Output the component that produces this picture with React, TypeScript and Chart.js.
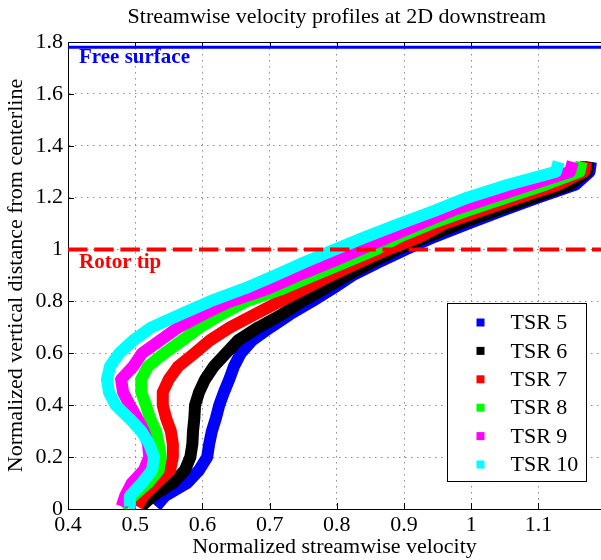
import { useEffect, useRef } from "react";
import { Chart, registerables } from "chart.js";

Chart.register(...registerables);

// Heights above the centerline (normalized) at which each profile is sampled
const heights = [
  0.01, 0.05, 0.1, 0.15, 0.2, 0.25, 0.3, 0.35, 0.4, 0.45, 0.5, 0.55, 0.6, 0.65,
  0.7, 0.75, 0.8, 0.85, 0.9, 0.95, 1.0, 1.05, 1.1, 1.15, 1.2, 1.25, 1.3, 1.338,
];

// Normalized streamwise velocity at each height, one list per tip speed ratio
const tsr5 = [
  0.531, 0.544, 0.577, 0.595, 0.607, 0.61, 0.614, 0.62, 0.625, 0.632, 0.64, 0.647, 0.657, 0.674,
  0.701, 0.73, 0.763, 0.794, 0.823, 0.861, 0.902, 0.946, 0.995, 1.046, 1.099, 1.155, 1.176, 1.178,
];
const tsr6 = [
  0.509, 0.526, 0.556, 0.574, 0.582, 0.585, 0.586, 0.588, 0.589, 0.595, 0.604, 0.617, 0.635, 0.653,
  0.683, 0.718, 0.748, 0.782, 0.815, 0.852, 0.89, 0.936, 0.983, 1.037, 1.092, 1.147, 1.172, 1.174,
];
const tsr7 = [
  0.503, 0.512, 0.532, 0.552, 0.556, 0.556, 0.553, 0.546, 0.541, 0.541, 0.55, 0.564, 0.588, 0.611,
  0.641, 0.678, 0.715, 0.753, 0.791, 0.832, 0.875, 0.924, 0.96, 1.015, 1.071, 1.129, 1.168, 1.171,
];
const tsr8 = [
  0.479, 0.497, 0.519, 0.535, 0.538, 0.535, 0.531, 0.522, 0.516, 0.509, 0.509, 0.519, 0.543, 0.57,
  0.596, 0.628, 0.665, 0.72, 0.765, 0.812, 0.858, 0.894, 0.94, 0.994, 1.052, 1.11, 1.161, 1.164,
];
const tsr9 = [
  0.48, 0.485, 0.495, 0.513, 0.521, 0.519, 0.513, 0.503, 0.492, 0.482, 0.479, 0.497, 0.51, 0.537,
  0.564, 0.601, 0.641, 0.698, 0.742, 0.79, 0.835, 0.879, 0.924, 0.971, 1.03, 1.088, 1.147, 1.151,
];
const tsr10 = [
  0.491, 0.492, 0.51, 0.525, 0.528, 0.521, 0.509, 0.491, 0.471, 0.461, 0.458, 0.4625, 0.476, 0.497,
  0.524, 0.567, 0.611, 0.663, 0.708, 0.751, 0.797, 0.844, 0.894, 0.946, 0.994, 1.055, 1.126, 1.13,
];

const seriesLabels = ["TSR 5", "TSR 6", "TSR 7", "TSR 8", "TSR 9", "TSR 10"];
const seriesColors = ["#0000ff", "#000000", "#ff0000", "#00ff00", "#ff00ff", "#00ffff"];

// Reference levels
const freeSurface = 1.78;
const rotorTip = 1.0;

const xTicks = [0.4, 0.5, 0.6, 0.7, 0.8, 0.9, 1.0, 1.1];
const yTicks = [0, 0.2, 0.4, 0.6, 0.8, 1.0, 1.2, 1.4, 1.6, 1.8];

const X_MIN = 0.4;
const X_MAX = 1.193;
const X_AXIS_END = 1.2;
const Y_MIN = 0;
const Y_MAX = 1.8;

const FONT = "'Liberation Serif', 'Times New Roman', serif";

const TITLE = "Streamwise velocity profiles at 2D downstream";

const decorations = {
  id: "decorations",
  beforeDatasetsDraw(chart: any) {
    const { ctx, chartArea: a, scales } = chart;
    const x = scales.x;
    const y = scales.y;
    ctx.save();
    ctx.strokeStyle = "#000";
    ctx.lineWidth = 1;
    ctx.beginPath();
    xTicks.forEach((v) => {
      const px = Math.round(x.getPixelForValue(v)) + 0.5;
      ctx.moveTo(px, a.bottom);
      ctx.lineTo(px, a.bottom - 6);
      ctx.moveTo(px, a.top);
      ctx.lineTo(px, a.top + 6);
    });
    yTicks.forEach((v) => {
      const py = Math.round(y.getPixelForValue(v)) + 0.5;
      ctx.moveTo(a.left, py);
      ctx.lineTo(a.left + 6, py);
    });
    ctx.stroke();
    ctx.restore();
  },
  afterDatasetsDraw(chart: any) {
    const { ctx, chartArea: a, scales } = chart;
    const y = scales.y;
    ctx.save();
    ctx.font = `bold 21px ${FONT}`;
    ctx.textAlign = "left";
    ctx.textBaseline = "alphabetic";
    ctx.fillStyle = "#0000ff";
    ctx.fillText("Free surface", a.left + 11, y.getPixelForValue(freeSurface) + 16);
    ctx.fillStyle = "#ff0000";
    ctx.fillText("Rotor tip", a.left + 11, y.getPixelForValue(rotorTip) + 18);
    ctx.restore();
  },
  afterDraw(chart: any) {
    const { ctx, chartArea: a, scales } = chart;
    const x = scales.x;
    ctx.save();
    // top frame line
    ctx.strokeStyle = "#000";
    ctx.lineWidth = 1;
    ctx.beginPath();
    ctx.moveTo(a.left, a.top + 0.5);
    ctx.lineTo(a.right, a.top + 0.5);
    ctx.stroke();

    // title, centred over the full axis range
    ctx.fillStyle = "#000";
    ctx.font = `22px ${FONT}`;
    ctx.textAlign = "center";
    ctx.textBaseline = "middle";
    ctx.fillText(TITLE, x.getPixelForValue((X_MIN + X_AXIS_END) / 2), 17);

    // legend box in the lower right corner of the plot
    const w = 139;
    const h = 178;
    const left = Math.round(a.right - 15 - w) + 0.5;
    const top = Math.round(a.bottom - 28 - h) + 0.5;
    ctx.fillStyle = "#fff";
    ctx.fillRect(left, top, w, h);
    ctx.strokeStyle = "#000";
    ctx.lineWidth = 1;
    ctx.strokeRect(left, top, w, h);
    ctx.font = `22px ${FONT}`;
    ctx.textAlign = "left";
    ctx.textBaseline = "middle";
    seriesLabels.forEach((label, i) => {
      const cy = top + 19 + i * 28.4;
      ctx.fillStyle = seriesColors[i];
      ctx.fillRect(left + 29, cy - 4, 8, 8);
      ctx.fillStyle = "#000";
      ctx.fillText(label, left + 63, cy + 1);
    });
    ctx.restore();
  },
};

export default function App() {
  const canvasRef = useRef<HTMLCanvasElement | null>(null);

  useEffect(() => {
    const canvas = canvasRef.current;
    if (!canvas) return;

    const profiles = [tsr5, tsr6, tsr7, tsr8, tsr9, tsr10];
    const profileSets = profiles.map((xs, i) => ({
      label: seriesLabels[i],
      data: xs.map((v, k) => ({ x: v, y: heights[k] })),
      borderColor: seriesColors[i],
      backgroundColor: seriesColors[i],
      borderWidth: 12,
      pointRadius: 0,
      showLine: true,
      fill: false,
      tension: 0,
      borderJoinStyle: "round" as const,
      borderCapStyle: "butt" as const,
      order: 10 - i,
    }));

    const levelSets = [
      {
        label: "Free surface",
        data: [
          { x: X_MIN, y: freeSurface },
          { x: X_MAX, y: freeSurface },
        ],
        borderColor: "#0000ff",
        borderWidth: 3,
        pointRadius: 0,
        showLine: true,
        order: 0,
      },
      {
        label: "Rotor tip",
        data: [
          { x: X_MIN, y: rotorTip },
          { x: X_MAX, y: rotorTip },
        ],
        borderColor: "#ff0000",
        borderWidth: 4,
        borderDash: [19.5, 6.7],
        pointRadius: 0,
        showLine: true,
        order: 0,
      },
    ];

    const tickFont = { family: FONT, size: 22 };

    const chart = new Chart(canvas, {
      type: "scatter",
      data: { datasets: [...levelSets, ...profileSets] as any },
      options: {
        animation: false,
        responsive: false,
        devicePixelRatio: 1,
        events: [],
        layout: { padding: { top: 42, left: 0, right: 0, bottom: 0 } },
        plugins: {
          legend: { display: false },
          title: { display: false },
          tooltip: { enabled: false },
        },
        scales: {
          x: {
            type: "linear",
            min: X_MIN,
            max: X_MAX,
            afterBuildTicks: (s: any) => {
              s.ticks = xTicks.map((v) => ({ value: v }));
            },
            afterFit: (s: any) => {
              s.height = 51;
            },
            grid: { color: "#8c8c8c", lineWidth: 1, drawTicks: false },
            border: { display: true, color: "#000", width: 1, dash: [1.5, 4.5] },
            ticks: {
              font: tickFont,
              color: "#000",
              padding: 3,
              maxRotation: 0,
              autoSkip: false,
              callback: (v: any) => `${+Number(v).toFixed(2)}`,
            },
            title: {
              display: true,
              text: "Normalized streamwise velocity",
              font: tickFont,
              color: "#000",
              padding: { top: 0, bottom: 0 },
            },
          },
          y: {
            type: "linear",
            min: Y_MIN,
            max: Y_MAX,
            afterBuildTicks: (s: any) => {
              s.ticks = yTicks.map((v) => ({ value: v }));
            },
            afterFit: (s: any) => {
              s.width = 68;
            },
            grid: { color: "#8c8c8c", lineWidth: 1, drawTicks: false },
            border: { display: true, color: "#000", width: 1, dash: [1.5, 4.5] },
            ticks: {
              font: tickFont,
              color: "#000",
              padding: 5,
              autoSkip: false,
              callback: (v: any) => `${+Number(v).toFixed(2)}`,
            },
            title: {
              display: true,
              text: "Normalized vertical distance from centerline",
              font: tickFont,
              color: "#000",
              padding: { top: 3, bottom: 0 },
            },
          },
        },
      },
      plugins: [decorations],
    });

    return () => chart.destroy();
  }, []);

  return (
    <div
      style={{
        position: "absolute",
        left: 0,
        top: 0,
        width: 601,
        height: 560,
        background: "#fff",
        overflow: "hidden",
      }}
    >
      <canvas
        ref={canvasRef}
        width={601}
        height={560}
        style={{ display: "block", width: 601, height: 560 }}
      />
    </div>
  );
}
